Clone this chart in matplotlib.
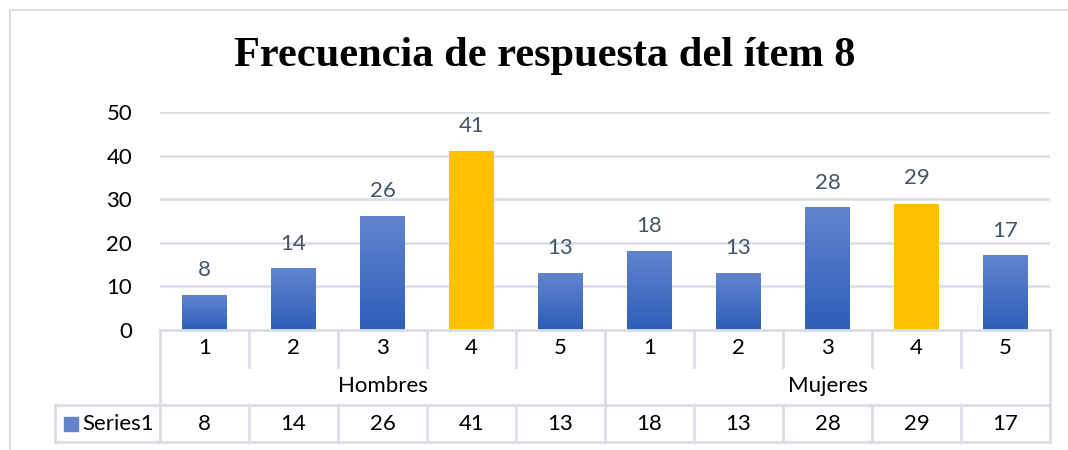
import numpy as np
import matplotlib
matplotlib.use("Agg")
import matplotlib.pyplot as plt
import matplotlib.transforms as mtransforms
from matplotlib.colors import LinearSegmentedColormap

# data
groups = ["Hombres", "Mujeres"]
answers = ["1", "2", "3", "4", "5"]
hombres = [8, 14, 26, 41, 13]
mujeres = [18, 13, 28, 29, 17]
series_name = "Series1"
title = "Frecuencia de respuesta del ítem 8"
yticks = [0, 10, 20, 30, 40, 50]

values = hombres + mujeres
cats = answers * len(groups)
n = len(values)
x = np.arange(n)
highlight = [c == "4" for c in cats]

W, H = 1068, 450
fig = plt.figure(figsize=(W / 100, H / 100), dpi=100)
plt.rcParams["font.family"] = ["Lato", "DejaVu Sans"]
fs = 16

grid_col = "#d9dde4"
blue_top, blue_bot = "#6284cf", "#2e5eb8"
orange = "#ffc000"
lbl_col = "#44546a"


def fx(px):
    return px / W


def fy(py):
    return 1 - py / H


# outer chart border
fig.add_artist(plt.Line2D([fx(10), fx(10)], [fy(10), 0], color=grid_col, lw=1.5))
fig.add_artist(plt.Line2D([fx(10), 1], [fy(10), fy(10)], color=grid_col, lw=1.5))

ax = fig.add_axes([fx(160), fy(330), fx(1050) - fx(160), (330 - 112) / H])
ax.set_xlim(-0.5, n - 0.5)
ax.set_ylim(0, 50)
for s in ax.spines.values():
    s.set_visible(False)
ax.set_xticks([])
ax.set_yticks(yticks)
ax.tick_params(axis="y", length=0, pad=20, labelsize=fs)
for t in yticks[1:]:
    ax.axhline(t, color=grid_col, lw=1.8, zorder=0)

cmap = LinearSegmentedColormap.from_list("g", [blue_bot, blue_top])
grad = np.linspace(0, 1, 100).reshape(-1, 1)
bw = 0.5
bars = ax.bar(x, values, width=bw, color=[orange if h else "none" for h in highlight],
              zorder=2)
for b, h in zip(bars, highlight):
    if not h:
        x0 = b.get_x()
        ax.imshow(grad, cmap=cmap, origin="lower", aspect="auto", zorder=2,
                  extent=[x0, x0 + b.get_width(), 0, b.get_height()])
ax.set_xlim(-0.5, n - 0.5)
ax.set_ylim(0, 50)

for xi, v in zip(x, values):
    ax.annotate(str(v), (xi, v), xytext=(0, 11), textcoords="offset points",
                ha="center", va="bottom", fontsize=fs, color=lbl_col)

# data table below the axes
tr = mtransforms.blended_transform_factory(ax.transData, fig.transFigure)
r0, r1, r2, r3 = fy(330), fy(367), fy(405), fy(442)
lk = dict(color=grid_col, lw=2, transform=tr, clip_on=False)
left, right = -0.5, n - 0.5
ax.plot([left, right], [r0, r0], **lk)
ax.plot([left, right], [r2, r2], **lk)
ax.plot([left, right], [r3, r3], **lk)
leg_left = left - (160 - 55) / 89
ax.plot([leg_left, left], [r2, r2], **lk)
ax.plot([leg_left, left], [r3, r3], **lk)
ax.plot([leg_left, leg_left], [r2, r3], **lk)
ax.plot([left, left], [r0, r3], **lk)
ax.plot([right, right], [r0, r3], **lk)
for i in range(1, n):
    if i % len(answers) == 0:
        ax.plot([i - 0.5, i - 0.5], [r0, r3], **lk)
    else:
        ax.plot([i - 0.5, i - 0.5], [r0, r1], **lk)
        ax.plot([i - 0.5, i - 0.5], [r2, r3], **lk)

for xi, c, v in zip(x, cats, values):
    ax.text(xi, (r0 + r1) / 2, c, transform=tr, ha="center", va="center", fontsize=fs)
    ax.text(xi, (r2 + r3) / 2, str(v), transform=tr, ha="center", va="center", fontsize=fs)
for gi, g in enumerate(groups):
    xc = gi * len(answers) + (len(answers) - 1) / 2
    ax.text(xc, (r1 + r2) / 2, g, transform=tr, ha="center", va="center", fontsize=fs)

# legend key in table
fig.add_artist(plt.Rectangle((fx(64), fy(431)), fx(14), 14 / H, color=blue_top,
                             transform=fig.transFigure))
fig.text(fx(82), (r2 + r3) / 2, series_name, ha="left", va="center", fontsize=fs)

fig.text(fx(545), fy(56), title, ha="center", va="center", fontsize=30.5,
         fontweight="bold", family=["Liberation Serif", "DejaVu Serif"])

fig.savefig("out.png", dpi=100)
